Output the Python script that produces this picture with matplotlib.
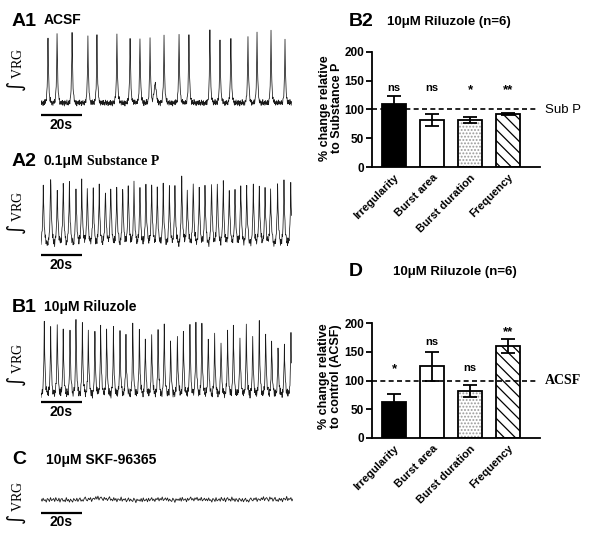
import numpy as np
import matplotlib
matplotlib.use("Agg")
import matplotlib.pyplot as plt

W, H = 600, 537
SANS = "Liberation Sans"
SERIF = "Liberation Serif"
plt.rcParams['font.family'] = [SANS, 'DejaVu Sans']
plt.rcParams['hatch.linewidth'] = 0.9

# ---------------- data ----------------
categories = ['Irregularity', 'Burst area', 'Burst duration', 'Frequency']
b2_values = [110, 82, 82, 92]
b2_errors = [13, 10, 5, 1.5]
b2_sig = ['ns', 'ns', '*', '**']
b2_sig_y = [137, 137, 133, 133]
d_values = [63, 125, 82, 160]
d_errors = [13, 25, 11, 13]
d_sig = ['*', 'ns', 'ns', '**']
d_sig_y = [120, 167, 122, 184]
y_ticks = [0, 50, 100, 150, 200]

T = 122.0  # seconds shown in each trace
a1_times = [3.4, 7.8, 15.1, 22.8, 27.2, 36.9, 43.3, 48.1, 53.0, 59.8, 67.1,
            71.9, 82.1, 87.0, 92.3, 100.6, 105.0, 111.8, 118.6]
a1_amps = [0.84, 0.91, 0.93, 0.87, 0.88, 0.93, 0.88, 0.88, 0.84, 0.88, 0.93,
           0.91, 1.00, 0.81, 0.88, 0.88, 0.93, 0.93, 0.83]
a1_minor_times = [55.5]
a1_minor_amps = [0.25]

a2_times = [1.1, 4.7, 7.9, 10.8, 13.8, 17.0, 19.8, 22.5, 25.4, 28.3, 31.3,
            33.9, 36.8, 39.7, 42.4, 45.2, 48.1, 51.0, 53.8, 56.5, 59.4, 62.4,
            65.1, 68.4, 71.1, 74.0, 76.9, 79.7, 82.9, 85.7, 88.6, 91.5, 94.3,
            97.1, 100.0, 103.2, 106.1, 108.9, 111.6, 115.0, 118.1, 121.4]
a2_amps = [0.85, 1.00, 0.82, 0.88, 0.90, 0.80, 0.92, 0.86, 0.80, 0.84, 0.82,
           0.86, 0.80, 0.84, 0.86, 0.88, 0.82, 0.90, 0.84, 0.82, 0.86, 0.80,
           0.84, 0.98, 0.82, 0.88, 0.80, 0.86, 0.92, 0.94, 0.88, 0.84, 0.80,
           0.86, 0.82, 0.84, 0.88, 0.82, 0.80, 0.86, 0.90, 0.88]

b1_times = [1.6, 4.7, 7.9, 10.8, 14.1, 17.0, 20.1, 23.0, 26.2, 29.0, 31.9,
            35.2, 38.4, 41.3, 44.6, 47.8, 50.7, 53.8, 56.9, 59.9, 63.0, 66.3,
            69.2, 72.4, 75.3, 78.2, 81.3, 84.4, 87.5, 90.7, 93.5, 96.7, 99.8,
            102.9, 106.1, 109.2, 112.1, 115.2, 118.3, 121.5]
b1_amps = [1.00, 0.91, 1.00, 0.86, 0.90, 1.00, 0.99, 0.86, 0.82, 0.92, 0.90,
           0.88, 0.83, 0.81, 0.99, 0.88, 0.76, 0.83, 0.86, 0.97, 0.71, 0.83,
           0.86, 0.94, 0.97, 0.94, 0.83, 0.81, 0.76, 0.86, 0.92, 0.83, 0.92,
           0.83, 0.97, 0.86, 0.74, 0.62, 0.69, 0.86]

noise = [0.3, -0.4, 0.6, -0.2, 0.1, -0.7, 0.5, 0.2, -0.5, 0.8,
         -0.3, 0.0, 0.4, -0.6, 0.7, -0.1, -0.4, 0.5, -0.8, 0.2,
         0.6, -0.3, 0.1, -0.5, 0.9, -0.2, 0.3, -0.6, 0.4, -0.1,
         -0.7, 0.5, 0.0, -0.3, 0.6, -0.5, 0.2, 0.7, -0.4, 0.1,
         -0.6, 0.3, 0.8, -0.2, -0.5, 0.4, -0.1, 0.6, -0.7, 0.2,
         0.0, -0.4, 0.5, -0.3, 0.7, -0.6, 0.1, 0.4, -0.2, -0.8,
         0.6, -0.1, 0.3, -0.5, 0.2, 0.8, -0.4, 0.0, -0.6, 0.5,
         -0.2, 0.4, -0.7, 0.3, 0.1, -0.3, 0.9, -0.5, 0.2, -0.1,
         0.5, -0.6, 0.0, 0.7, -0.4, 0.3, -0.2, -0.5, 0.6, 0.1,
         -0.8, 0.4, -0.1, 0.2, -0.3, 0.6, -0.5, 0.8, -0.2, 0.0,
         0.3, -0.7, 0.5, -0.4, 0.1, 0.7, -0.3, 0.2, -0.6, 0.4,
         -0.1, 0.6, -0.5, 0.3, -0.2, 0.8, -0.4, 0.0, 0.5, -0.3]
c_drift = [0.0, 0.1, -0.1, 0.0, 0.2, 0.6, 0.3, 0.1, 0.0, -0.1, 0.1, 0.2,
           0.0, 0.1, 0.3, 0.1, 0.0, 0.2, 0.1, -0.1, 0.2, 0.4, 0.1, 0.3]

fig = plt.figure(figsize=(W / 100, H / 100), dpi=100)


def rect(x0, y0, x1, y1):
    return [x0 / W, 1 - y1 / H, (x1 - x0) / W, (y1 - y0) / H]


def ftext(x, y, s, **kw):
    fig.text(x / W, 1 - y / H, s, **kw)


def trace(x0, x1, y_base, y_peak, times, amps, rise, decay, nz, shift,
          bar_y, minor=None):
    top, bot = y_peak - 6, bar_y + 3
    ax = fig.add_axes(rect(x0, top, x1, bot))
    ax.axis('off')
    scale = y_base - y_peak
    ax.set_xlim(0, T)
    ax.set_ylim(-(bot - y_base) / scale, (y_base - top) / scale)
    t = np.sort(np.concatenate([np.arange(0, T, 0.2), times]))
    base = np.resize(np.roll(noise, shift), len(t)) * nz
    y = base.copy()
    for t0, a in zip(times, amps):
        d = t - t0
        y += np.where(d < 0, a * np.exp(d / rise), a * np.exp(-d / decay))
    if minor:
        for t0, a in zip(*minor):
            d = t - t0
            y += a * np.exp(-(d / 0.8) ** 2)
    ax.plot(t, y, color='#1a1a1a', lw=0.55)
    yb = -(bar_y - y_base) / scale
    ax.plot([0, 20], [yb, yb], color='black', lw=1.6, clip_on=False,
            solid_capstyle='butt')
    return ax


def vrg(y):
    ftext(17, y, r'$\int$ VRG', rotation=90, ha='center', va='center',
          family=[SERIF], fontsize=10)


# ---- A1 ----
ftext(12, 21, 'A1', fontsize=14, fontweight='bold', va='center')
ftext(44, 20, 'ACSF', fontsize=10, fontweight='bold', va='center')
trace(41, 292, 103, 28, a1_times, a1_amps, 0.3, 0.35, 0.05, 0, 115,
      minor=(a1_minor_times, a1_minor_amps))
vrg(70)
ftext(61, 125, '20s', fontsize=10, fontweight='bold', ha='center', va='center')

# ---- A2 ----
ftext(12, 162, 'A2', fontsize=14, fontweight='bold', va='center')
ftext(44, 161, '0.1\u03bcM', fontsize=10, fontweight='bold', va='center')
ftext(87, 161, 'Substance P', fontsize=10, fontweight='bold', va='center',
      family=[SERIF])
trace(41, 292, 246, 177, a2_times, a2_amps, 0.4, 0.5, 0.08, 17, 255)
vrg(213)
ftext(61, 265, '20s', fontsize=10, fontweight='bold', ha='center', va='center')

# ---- B1 ----
ftext(12, 307, 'B1', fontsize=14, fontweight='bold', va='center')
ftext(44, 307, '10\u03bcM Riluzole', fontsize=10, fontweight='bold', va='center')
trace(41, 292, 395, 323, b1_times, b1_amps, 0.3, 0.4, 0.08, 43, 402)
vrg(365)
ftext(61, 412, '20s', fontsize=10, fontweight='bold', ha='center', va='center')

# ---- C ----
ftext(12, 460, 'C', fontsize=14, fontweight='bold', va='center')
ftext(46, 460, '10\u03bcM SKF-96365', fontsize=10, fontweight='bold', va='center')
axc = fig.add_axes(rect(41, 490, 293, 516))
axc.axis('off')
axc.set_xlim(0, T)
axc.set_ylim(-16, 10)
xc = np.linspace(0, T, len(noise) * 2)
yc = np.concatenate([noise, np.roll(noise, 37)]) * 3.0
yc = yc + np.repeat(c_drift, len(yc) // len(c_drift)) * 3
axc.plot(xc, yc, color='#1a1a1a', lw=0.6)
axc.plot([0, 20], [-13, -13], color='black', lw=1.6, clip_on=False,
         solid_capstyle='butt')
vrg(503)
ftext(61, 522, '20s', fontsize=10, fontweight='bold', ha='center', va='center')


# ---------------- bar charts ----------------
def bar_panel(y_top, y_bot, values, errors, sig, sig_y):
    ax = fig.add_axes(rect(372, y_top, 540, y_bot))
    x = np.arange(len(categories))
    w = 0.63
    ax.set_xlim(-22 / 38, 3 + 32 / 38)
    ax.set_ylim(0, 200)
    # bar 0 black, bar 1 white, bar 2 dotted, bar 3 hatched
    ax.bar(x[0], values[0], w, color='black', edgecolor='black', lw=1.3, zorder=2)
    ax.bar(x[1], values[1], w, color='white', edgecolor='black', lw=1.3, zorder=2)
    ax.bar(x[2], values[2], w, color='white', edgecolor='#9a9a9a', lw=0,
           hatch='.....', zorder=2)
    ax.bar(x[2], values[2], w, color='none', edgecolor='black', lw=1.3, zorder=3)
    ax.bar(x[3], values[3], w, color='white', edgecolor='black', lw=0,
           hatch='\\' * 3, zorder=2)
    ax.bar(x[3], values[3], w, color='none', edgecolor='black', lw=1.3, zorder=3)
    ax.errorbar(x, values, yerr=errors, fmt='none', ecolor='black',
                elinewidth=1.3, capsize=4.8, capthick=1.3, zorder=4)
    lo, hi = ax.get_xlim()
    ax.axhline(100, color='black', lw=1.2, ls=(0, (3, 2)), zorder=5,
               xmax=(3 + 29 / 38 - lo) / (hi - lo))
    for xi, s, sy in zip(x, sig, sig_y):
        ax.text(xi, sy, s, ha='center', va='center',
                fontsize=8 if s == 'ns' else 9.5, fontweight='bold')
    for sp in ['top', 'right']:
        ax.spines[sp].set_visible(False)
    for sp in ['left', 'bottom']:
        ax.spines[sp].set_linewidth(1.3)
    ax.set_yticks(y_ticks)
    ax.set_yticklabels([str(v) for v in y_ticks], fontsize=8.5,
                       fontweight='bold')
    ax.set_xticks(x)
    ax.set_xticklabels(categories, rotation=45, ha='right',
                       rotation_mode='anchor', fontsize=8, fontweight='bold')
    ax.tick_params(axis='y', length=4, width=1.3, pad=1.5)
    ax.tick_params(axis='x', length=0, pad=4)
    return ax


bar_panel(52, 167, b2_values, b2_errors, b2_sig, b2_sig_y)
ftext(349, 22, 'B2', fontsize=14, fontweight='bold', va='center')
ftext(387, 22, '10\u03bcM Riluzole (n=6)', fontsize=9.5, fontweight='bold',
      va='center')
ftext(331, 108, '% change relative\nto Substance P', rotation=90,
      ha='center', va='center', fontsize=9, fontweight='bold',
      multialignment='center', linespacing=1.05)
ftext(545, 110, 'Sub P', fontsize=9.5, va='center')

bar_panel(323, 438, d_values, d_errors, d_sig, d_sig_y)
ftext(349, 272, 'D', fontsize=14, fontweight='bold', va='center')
ftext(393, 272, '10\u03bcM Riluzole (n=6)', fontsize=9.5, fontweight='bold',
      va='center')
ftext(330, 376, '% change relative\nto control (ACSF)', rotation=90,
      ha='center', va='center', fontsize=9, fontweight='bold',
      multialignment='center', linespacing=1.05)
ftext(545, 380, 'ACSF', fontsize=10, fontweight='bold', va='center',
      family=[SERIF])

fig.savefig('out.png', dpi=100, facecolor='white')
